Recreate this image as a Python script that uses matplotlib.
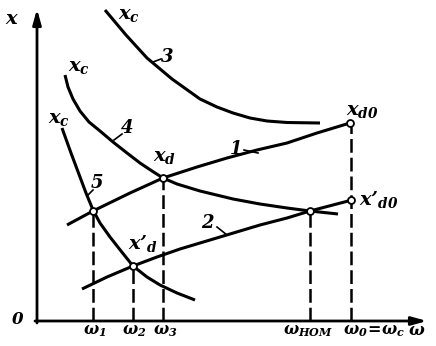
import numpy as np
import matplotlib
matplotlib.use("Agg")
import matplotlib.pyplot as plt

plt.rcParams['mathtext.fontset'] = 'custom'
plt.rcParams['mathtext.it'] = 'DejaVu Serif:italic:bold'
plt.rcParams['mathtext.rm'] = 'DejaVu Serif:italic:bold'
plt.rcParams['mathtext.bf'] = 'DejaVu Serif:italic:bold'

# curves (omega, x)
c1_w = [30, 56, 93, 126, 160, 190, 220, 250, 280, 313]
c1_x = [96, 110, 128, 143, 154, 163, 171, 178, 188, 198]

c2_w = [45, 70, 96, 120, 143, 183, 223, 250, 273, 315]
c2_x = [32, 44, 55, 64, 72, 84, 96, 103, 110, 121]

c3_w = [68, 89, 110, 135, 163, 180, 196, 213, 230, 250, 283]
c3_x = [311, 286, 263, 242, 222, 214, 208, 203, 200, 198.5, 198]

c4_w = [28, 31, 36, 43, 52, 63, 76, 90, 103, 115, 126, 140, 163, 196, 223, 250, 273, 301]
c4_x = [246, 234, 222, 210, 199, 190, 179, 168, 158, 150, 143, 137, 130, 122, 117, 113, 110, 107]

c5_w = [25, 34, 43, 49, 56, 63, 73, 84, 96, 110, 123, 140, 158]
c5_x = [193, 168, 144, 128, 111, 98, 84, 70, 55, 44, 36, 28, 21]

# marked points
pts_w = [56, 96, 126, 273, 313, 314]
pts_x = [110, 55, 143, 110, 198, 121]

# dashed drops to the omega axis
drop_w = [56, 96, 126, 273, 314]
drop_x = [110, 55, 143, 110, 198]
tick_labels = [r'$\omega_1$', r'$\omega_2$', r'$\omega_3$',
               r'$\omega_{\mathit{НОМ}}$', r'$\omega_0\!=\!\omega_c$']
tick_pos = [58, 97, 128, 271, 337]

fig = plt.figure(figsize=(4.36, 3.46), dpi=100)
ax = fig.add_axes([0, 0, 1, 1])
ax.set_xlim(-37, 399)
ax.set_ylim(-25, 321)
ax.axis('off')

lw = 2.2
# axes with arrows
ax.annotate('', xy=(0, 312), xytext=(0, -2),
            arrowprops=dict(arrowstyle='-|>,head_length=0.9,head_width=0.25',
                            lw=2.0, color='k', shrinkA=0, shrinkB=0))
ax.annotate('', xy=(390, 0), xytext=(-2, 0),
            arrowprops=dict(arrowstyle='-|>,head_length=0.9,head_width=0.25',
                            lw=2.0, color='k', shrinkA=0, shrinkB=0))

for w, x in [(c1_w, c1_x), (c2_w, c2_x), (c3_w, c3_x), (c4_w, c4_x), (c5_w, c5_x)]:
    ax.plot(w, x, color='k', lw=lw, solid_capstyle='butt',
            solid_joinstyle='round', zorder=3)

for w, x in zip(drop_w, drop_x):
    ax.plot([w, w], [0, x], color='k', lw=1.8, dashes=(5.5, 2), zorder=2)

ax.plot(pts_w, pts_x, 'o', ms=5, mfc='white', mec='k', mew=1.3, zorder=5)

for p, lab in zip(tick_pos, tick_labels):
    ax.text(p, -10, lab, ha='center', va='center', fontsize=11.5)

fs = 14
ax.text(-25, 302, r'$x$', ha='center', va='center', fontsize=fs)
ax.text(-19, 2, r'$0$', ha='center', va='center', fontsize=12)
ax.text(380, -9, r'$\omega$', ha='center', va='center', fontsize=12)

ax.text(92, 307, r'$x_c$', ha='center', va='center', fontsize=fs)
ax.text(42, 255, r'$x_c$', ha='center', va='center', fontsize=fs)
ax.text(22, 203, r'$x_c$', ha='center', va='center', fontsize=fs)
ax.text(128, 165, r'$x_d$', ha='center', va='center', fontsize=fs)
ax.text(106, 78, "$x\u02bc_d$", ha='center', va='center', fontsize=fs)
ax.text(325, 211, r'$x_{d0}$', ha='center', va='center', fontsize=fs)
ax.text(342, 121, "$x\u02bc_{d0}$", ha='center', va='center', fontsize=fs)

# curve numbers with short leaders
ax.text(130, 264, '$3$', ha='center', va='center', fontsize=13)
ax.plot([116, 124], [259, 262], color='k', lw=1.2)
ax.text(90, 193, '$4$', ha='center', va='center', fontsize=13)
ax.plot([77, 85], [181, 187], color='k', lw=1.2)
ax.text(60, 138, '$5$', ha='center', va='center', fontsize=13)
ax.plot([51, 56], [126, 131], color='k', lw=1.2)
ax.text(198, 172, '$1$', ha='center', va='center', fontsize=13)
ax.plot([207, 221], [171, 168], color='k', lw=1.2)
ax.text(171, 98, '$2$', ha='center', va='center', fontsize=13)
ax.plot([180, 190], [94, 86], color='k', lw=1.2)

fig.savefig('out.png', dpi=100)
